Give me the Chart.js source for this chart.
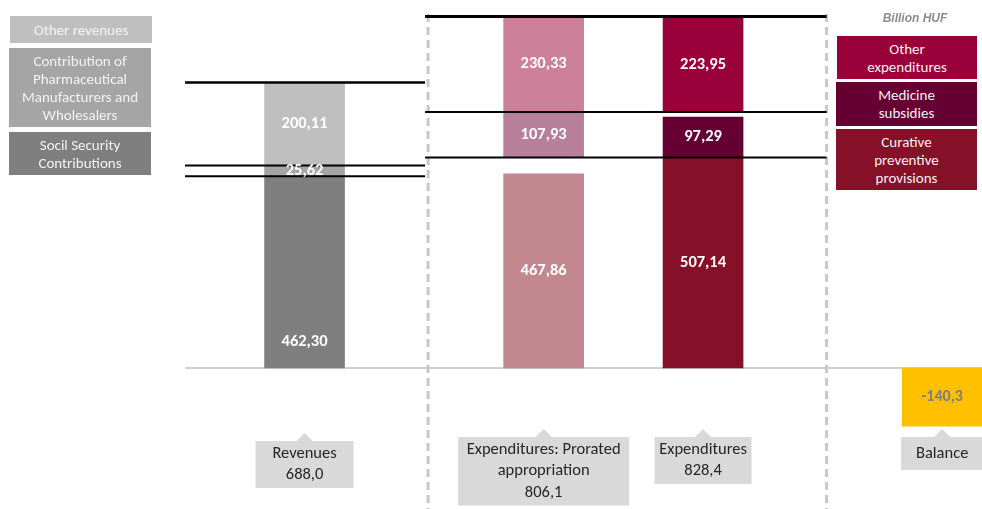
<!DOCTYPE html>
<html>
<head>
<meta charset="utf-8">
<script src="https://cdn.jsdelivr.net/npm/chart.js@4.4.0/dist/chart.umd.min.js"></script>
<style>
html, body { margin: 0; padding: 0; background: #fff; overflow: hidden; }
#wrap { position: relative; width: 982px; height: 509px; }
#chart { position: absolute; left: 0; top: 0; }
.key { position: absolute; display: flex; align-items: center; justify-content: center; text-align: center;
       color: #f2f2f2; font-family: Carlito, Lato, sans-serif; font-size: 15px; line-height: 18px; }
.unit { position: absolute; left: 860px; top: 11px; width: 110px; text-align: center; color: #8c8c8c;
        font-family: "Liberation Sans", Arial, sans-serif; font-size: 12px; font-weight: bold; font-style: italic; }
</style>
</head>
<body>
<div id="wrap">
  <canvas id="chart" width="982" height="509"></canvas>
  <div class="key" style="left:10px;top:16px;width:142px;height:27px;background:#bfbfbf">Other revenues</div>
  <div class="key" style="left:9px;top:48px;width:142px;height:79px;background:#a5a5a5">Contribution of<br>Pharmaceutical<br>Manufacturers and<br>Wholesalers</div>
  <div class="key" style="left:9px;top:132px;width:142px;height:43px;background:#7f7f7f">Socil Security<br>Contributions</div>
  <div class="unit">Billion HUF</div>
  <div class="key" style="left:837px;top:36px;width:140px;height:43px;background:#99003a">Other<br>expenditures</div>
  <div class="key" style="left:836px;top:82px;width:141px;height:44px;background:#660033">Medicine<br>subsidies</div>
  <div class="key" style="left:836px;top:129px;width:141px;height:61px;background:#861027">Curative<br>preventive<br>provisions</div>
</div>
<script>
// Adatok (milliárd HUF)
const categories = ['Revenues', 'Expenditures: Prorated appropriation', 'Expenditures', 'Balance'];
const calloutLines = [['Revenues'], ['Expenditures: Prorated', 'appropriation'], ['Expenditures'], ['Balance']];
const revenueSegments = [462.30, 25.62, 200.11];      // társadalombiztosítás, gyártók, egyéb
const proratedSegments = [467.86, 107.93, 230.33];    // gyógyító, gyógyszer, egyéb
const expenditureSegments = [507.14, 97.29, 223.95];
const balanceValues = [-140.3];
const proratedGaps = [41, 0];                         // üres hézagok az oszlopban
const expenditureGaps = [0, 15];

// Elrendezés
const slots = [1, 4, 6, 9];
const nSlots = 10;
const calloutWidths = [98, 171, 97, 82];
const fontFamily = 'Carlito, Lato, sans-serif';

const labels = new Array(nSlots).fill('');
slots.forEach(function(s, i) { labels[s] = categories[i]; });

function column(values, colors) {
    const data = new Array(nSlots).fill(null);
    const bg = new Array(nSlots).fill('rgba(0,0,0,0)');
    values.forEach(function(v, i) {
        if (v === null) return;
        data[slots[i]] = v;
        bg[slots[i]] = colors[i];
    });
    return { data: data, backgroundColor: bg };
}

const clear = 'rgba(0,0,0,0)';
const base = column([revenueSegments[0], proratedSegments[0], expenditureSegments[0], balanceValues[0]],
                    ['#7f7f7f', '#c2878f', '#861027', '#ffc000']);
const gapLow = column([null, proratedGaps[0], expenditureGaps[0], null], [clear, clear, clear, clear]);
const middle = column([revenueSegments[1], proratedSegments[1], expenditureSegments[1], null],
                      ['#a5a5a5', '#b77f99', '#660033', clear]);
const gapHigh = column([null, proratedGaps[1], expenditureGaps[1], null], [clear, clear, clear, clear]);
const top_ = column([revenueSegments[2], proratedSegments[2], expenditureSegments[2], null],
                    ['#bfbfbf', '#cc809a', '#99003a', clear]);

const datasets = [
    Object.assign({ label: 'base', isGap: false }, base),
    Object.assign({ label: 'gap1', isGap: true }, gapLow),
    Object.assign({ label: 'middle', isGap: false }, middle),
    Object.assign({ label: 'gap2', isGap: true }, gapHigh),
    Object.assign({ label: 'top', isGap: false }, top_)
];

function fmt(v, d) { return v.toFixed(d).replace('.', ','); }
function sum(a) { return a.reduce(function(s, v) { return s + v; }, 0); }

const totals = [sum(revenueSegments), sum(proratedSegments), sum(expenditureSegments), null];

const decorPlugin = {
    id: 'decor',
    beforeDatasetsDraw: function(chart) {
        const ctx = chart.ctx, y = chart.scales.y, area = chart.chartArea;
        const y0 = y.getPixelForValue(0);
        ctx.save();
        ctx.strokeStyle = '#bfbfbf';
        ctx.lineWidth = 1.5;
        ctx.beginPath();
        ctx.moveTo(area.left, y0);
        ctx.lineTo(area.right, y0);
        ctx.stroke();
        ctx.restore();
    },
    afterDatasetsDraw: function(chart) {
        const ctx = chart.ctx, x = chart.scales.x, y = chart.scales.y, area = chart.chartArea;
        const dashL = (x.getPixelForValue(2) + x.getPixelForValue(3)) / 2 + 4;
        const dashR = (x.getPixelForValue(7) + x.getPixelForValue(8)) / 2 + 4;

        // szaggatott elválasztók
        ctx.save();
        ctx.strokeStyle = '#c8c8c8';
        ctx.lineWidth = 3;
        ctx.setLineDash([8, 5]);
        [dashL, dashR].forEach(function(px) {
            ctx.beginPath();
            ctx.moveTo(px, 14);
            ctx.lineTo(px, area.bottom);
            ctx.stroke();
        });
        ctx.restore();

        // fekete szintvonalak
        const revLines = [
            [revenueSegments[0], 2],
            [revenueSegments[0] + revenueSegments[1], 2],
            [sum(revenueSegments), 2.5]
        ];
        const expLines = [
            [expenditureSegments[0], 2],
            [proratedSegments[0] + proratedGaps[0] + proratedSegments[1], 2],
            [sum(proratedSegments) + sum(proratedGaps), 3]
        ];
        ctx.save();
        ctx.strokeStyle = '#000';
        revLines.forEach(function(l) {
            const py = y.getPixelForValue(l[0]);
            ctx.lineWidth = l[1];
            ctx.beginPath();
            ctx.moveTo(area.left, py);
            ctx.lineTo(dashL - 3, py);
            ctx.stroke();
        });
        expLines.forEach(function(l) {
            const py = y.getPixelForValue(l[0]);
            ctx.lineWidth = l[1];
            ctx.beginPath();
            ctx.moveTo(dashL - 3, py);
            ctx.lineTo(dashR, py);
            ctx.stroke();
        });
        ctx.restore();

        // értékcímkék
        ctx.save();
        ctx.textAlign = 'center';
        ctx.textBaseline = 'middle';
        chart.data.datasets.forEach(function(ds, di) {
            if (ds.isGap) return;
            const meta = chart.getDatasetMeta(di);
            ds.data.forEach(function(v, i) {
                if (v === null) return;
                const el = meta.data[i];
                let cy = (el.y + el.base) / 2;
                if (i === slots[0] && di === 0) cy = el.base - 26;
                if (v < 0) {
                    ctx.fillStyle = '#7f7f7f';
                    ctx.font = 'bold 16px ' + fontFamily;
                    ctx.fillText(fmt(v, 1), el.x, cy);
                } else {
                    ctx.fillStyle = '#ffffff';
                    ctx.font = 'bold 16.5px ' + fontFamily;
                    ctx.fillText(fmt(v, 2), el.x, cy);
                }
            });
        });
        ctx.restore();

        // kategória-feliratok buborékban
        ctx.save();
        ctx.font = '16.5px ' + fontFamily;
        ctx.textAlign = 'center';
        ctx.textBaseline = 'middle';
        slots.forEach(function(s, i) {
            const cx = x.getPixelForValue(s);
            const lines = calloutLines[i].slice();
            if (totals[i] !== null) lines.push(fmt(totals[i], 1));
            const w = calloutWidths[i];
            const h = lines.length === 1 ? 33 : lines.length * 21.5 + 4;
            const top = i === 0 ? 441 : 437;
            ctx.fillStyle = '#d9d9d9';
            ctx.beginPath();
            ctx.moveTo(cx - w / 2, top);
            ctx.lineTo(cx - 8, top);
            ctx.lineTo(cx, top - 8);
            ctx.lineTo(cx + 8, top);
            ctx.lineTo(cx + w / 2, top);
            ctx.lineTo(cx + w / 2, top + h);
            ctx.lineTo(cx - w / 2, top + h);
            ctx.closePath();
            ctx.fill();
            ctx.fillStyle = '#262626';
            const startY = top + h / 2 - (lines.length - 1) * 21.5 / 2;
            lines.forEach(function(t, li) {
                ctx.fillText(t, cx, startY + li * 21.5);
            });
        });
        ctx.restore();
    }
};

new Chart(document.getElementById('chart').getContext('2d'), {
    type: 'bar',
    data: { labels: labels, datasets: datasets },
    options: {
        responsive: false,
        animation: false,
        devicePixelRatio: 1,
        layout: { padding: { left: 185, right: 0, top: 0, bottom: 0 } },
        datasets: { bar: { barThickness: 80, borderWidth: 0, borderSkipped: false } },
        plugins: {
            legend: { display: false },
            tooltip: { enabled: false }
        },
        scales: {
            x: { stacked: true, display: false, grid: { display: false } },
            y: { stacked: true, display: false, min: -339.8, max: 886.7, grid: { display: false } }
        }
    },
    plugins: [decorPlugin]
});
</script>
</body>
</html>
